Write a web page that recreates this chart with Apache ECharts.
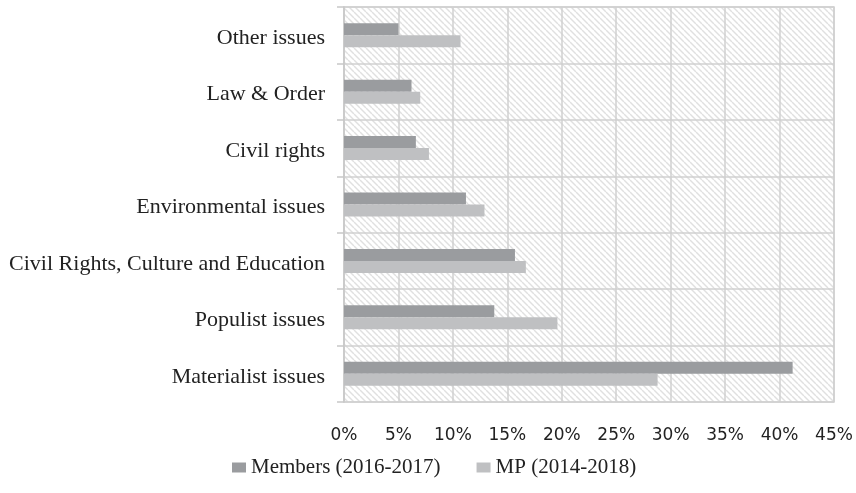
<!DOCTYPE html>
<html>
<head>
<meta charset="utf-8">
<script src="https://cdn.jsdelivr.net/npm/echarts@6/dist/echarts.min.js"></script>
<style>html,body{margin:0;padding:0;background:#fff}#c{width:856px;height:493px}</style>
</head>
<body>
<div id="c"></div>
<script>
const categories = ['Materialist issues', 'Populist issues', 'Civil Rights, Culture and Education', 'Environmental issues', 'Civil rights', 'Law & Order', 'Other issues'];
const members = [41.2, 13.8, 15.7, 11.2, 6.6, 6.2, 5.0];
const mp = [28.8, 19.6, 16.7, 12.9, 7.8, 7.0, 10.7];
const seriesNames = ['Members (2016-2017)', 'MP (2014-2018)'];
const xTicks = [0, 45, 5];

const s = 6;
const cv = document.createElement('canvas');
cv.width = s; cv.height = s;
const ctx = cv.getContext('2d');
ctx.fillStyle = '#ffffff';
ctx.fillRect(0, 0, s, s);
ctx.strokeStyle = '#e0e0e0';
ctx.lineWidth = 1.4;
for (const k of [-1, 0, 1]) {
  ctx.beginPath();
  ctx.moveTo(k * s, 0);
  ctx.lineTo(k * s + s, s);
  ctx.stroke();
}

const chart = echarts.init(document.getElementById('c'), null, {renderer: 'canvas'});
chart.setOption({
  animation: false,
  backgroundColor: '#ffffff',
  grid: {
    left: 344, right: 22, top: 7, bottom: 91,
    show: true,
    backgroundColor: {image: cv, repeat: 'repeat'},
    borderColor: '#d0d0d0', borderWidth: 1.5
  },
  legend: {
    data: seriesNames,
    bottom: 10,
    left: 227,
    itemWidth: 14, itemHeight: 10, itemGap: 36,
    icon: 'rect',
    textStyle: {fontFamily: 'Liberation Serif', fontSize: 21, color: '#222'}
  },
  xAxis: {
    type: 'value', min: xTicks[0], max: xTicks[1], interval: xTicks[2],
    axisLine: {show: false},
    axisTick: {show: false},
    splitLine: {show: true, lineStyle: {color: '#d0d0d0', width: 1.5}},
    axisLabel: {formatter: '{value}%', fontFamily: 'DejaVu Sans', fontSize: 17, color: '#222', margin: 25}
  },
  yAxis: {
    type: 'category', data: categories,
    axisLine: {show: true, lineStyle: {color: '#c8c8c8', width: 1.5}},
    axisTick: {show: true, length: 7, lineStyle: {color: '#c8c8c8', width: 1.5}},
    splitLine: {show: true, lineStyle: {color: '#d0d0d0', width: 1.5}},
    axisLabel: {
      margin: 19,
      formatter: v => '{a|' + v + '}',
      rich: {a: {fontFamily: 'Liberation Serif', fontSize: 22, color: '#222', padding: [6, 0, 0, 0]}}
    }
  },
  series: [
    {name: seriesNames[0], type: 'bar', data: members, barWidth: 12, barGap: '0%', itemStyle: {color: '#9a9c9f'}},
    {name: seriesNames[1], type: 'bar', data: mp, barWidth: 12, barGap: '0%', itemStyle: {color: '#bfc0c2'}}
  ]
});
</script>
</body>
</html>
